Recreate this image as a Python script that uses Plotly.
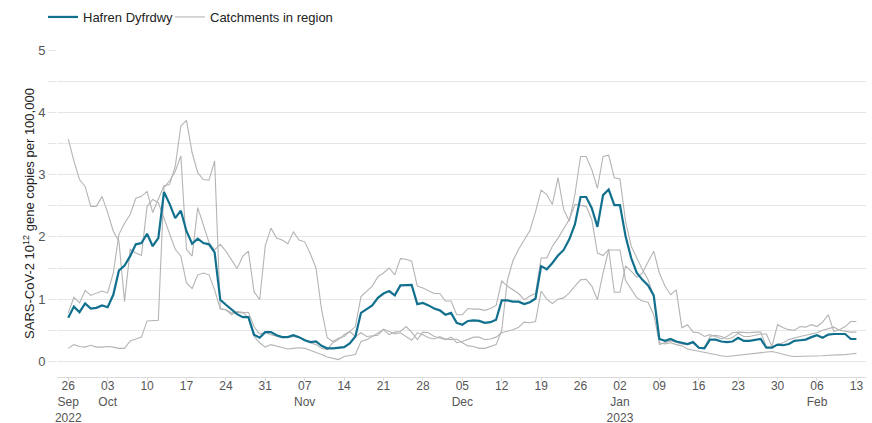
import pandas as pd
import plotly.graph_objects as go

# Daily series, 26 Sep 2022 to 13 Feb 2023
start_date = "2022-09-26"
n_days = 141

hafren_dyfrdwy = [
    0.70, 0.88, 0.79, 0.93, 0.85, 0.86, 0.90, 0.87, 1.07, 1.46, 1.54, 1.69, 1.88, 1.90, 2.05, 1.85,
    1.98, 2.72, 2.53, 2.30, 2.42, 2.09, 1.89, 1.97, 1.90, 1.88, 1.75, 0.99, 0.91, 0.84, 0.76, 0.71,
    0.71, 0.43, 0.38, 0.47, 0.47, 0.42, 0.39, 0.39, 0.42, 0.39, 0.34, 0.31, 0.32, 0.25, 0.21, 0.21,
    0.22, 0.23, 0.29, 0.40, 0.78, 0.84, 0.90, 1.02, 1.09, 1.13, 1.06, 1.22, 1.23, 1.23, 0.92, 0.94,
    0.90, 0.85, 0.82, 0.75, 0.78, 0.62, 0.59, 0.65, 0.66, 0.65, 0.62, 0.63, 0.67, 0.98, 0.98, 0.96,
    0.96, 0.92, 0.95, 1.01, 1.53, 1.48, 1.58, 1.70, 1.79, 1.96, 2.20, 2.64, 2.64, 2.46, 2.16, 2.67,
    2.76, 2.51, 2.51, 2.01, 1.66, 1.42, 1.31, 1.22, 1.06, 0.36, 0.33, 0.36, 0.32, 0.30, 0.28, 0.31,
    0.22, 0.21, 0.35, 0.35, 0.32, 0.31, 0.32, 0.38, 0.33, 0.33, 0.34, 0.36, 0.22, 0.22, 0.27, 0.26,
    0.28, 0.33, 0.34, 0.35, 0.39, 0.42, 0.38, 0.43, 0.44, 0.44, 0.44, 0.36, 0.36,
]

catchment_a = [
    3.57, 3.22, 2.92, 2.81, 2.49, 2.49, 2.65, 2.39, 2.09, 1.93, 0.96,
    1.80, 1.74, 1.70, 2.49, 2.60, 2.55, 2.30, 2.05, 1.80, 1.69, 1.26, 1.17, 1.39, 1.42, 1.39, 1.15,
    0.84, 0.83, 0.75, 0.80, 0.79, 0.70, 0.40, 0.30, 0.23, 0.27, 0.25, 0.22, 0.20, 0.21, 0.22, 0.21,
    0.18, 0.14, 0.11, 0.07, 0.05,
    0.03, 0.08, 0.09, 0.11, 0.32, 0.35, 0.40, 0.46, 0.51, 0.43, 0.47, 0.48, 0.56, 0.47, 0.35, 0.47,
    0.46, 0.40, 0.37, 0.35, 0.39, 0.30, 0.32, 0.36, 0.39, 0.39, 0.35, 0.36, 0.39,
    0.46, 0.48, 0.51, 0.55, 0.63, 0.62, 0.64, 1.13, 1.00, 0.93, 1.00, 1.02, 1.10, 1.21, 1.31, 1.32,
    1.21, 0.99, 1.42, 1.79, 1.79, 1.79, 1.30, 1.15, 1.02, 0.97, 0.95, 0.75,
    0.30, 0.28, 0.30, 0.27, 0.25, 0.20, 0.18, 0.17, 0.15, 0.12, 0.10, 0.09, 0.08, 0.09, 0.10, 0.11,
    0.12, 0.13, 0.15, 0.16, 0.16, 0.14, 0.11, 0.09, 0.08, 0.08, 0.08, 0.08, 0.09, 0.09, 0.10, 0.10,
    0.11, 0.11, 0.12, 0.13,
]

catchment_b = [
    0.78, 1.03, 0.94, 1.14, 1.06, 1.09, 1.13, 1.10, 1.42, 2.04, 2.22, 2.36, 2.62, 2.65, 2.73, 2.39,
    2.60, 2.82, 2.84, 3.13, 3.78, 3.87, 3.35, 3.03, 2.92, 2.91, 3.22,
    0.85, 0.83, 0.78, 0.79, 0.78, 0.79, 0.56, 0.44, 0.47, 0.43, 0.40, 0.38, 0.39, 0.40, 0.38, 0.35,
    0.30, 0.27, 0.21, 0.19, 0.30,
    0.35, 0.43, 0.48, 0.40, 0.46, 0.40, 0.41, 0.42, 0.52, 0.48, 0.44, 0.46, 0.40, 0.34, 0.46, 0.43,
    0.38, 0.36, 0.40, 0.36, 0.35, 0.36, 0.30, 0.25, 0.24, 0.21, 0.21, 0.24, 0.27,
    0.50, 1.30, 1.62, 1.80, 1.95, 2.10, 2.40, 2.75, 2.68, 2.52, 2.95, 2.44, 2.25, 2.68, 3.29, 3.29,
    3.08, 2.78, 3.29, 3.31, 2.95, 2.93, 2.25, 1.85, 1.66, 1.47, 1.31, 1.05,
    0.27, 0.30, 0.33, 0.31, 0.28, 0.27, 0.30, 0.22, 0.23, 0.40, 0.42, 0.40, 0.36, 0.38, 0.45, 0.40,
    0.40, 0.42, 0.44, 0.44, 0.24, 0.27, 0.30, 0.35, 0.38, 0.40, 0.42, 0.44, 0.46, 0.50, 0.52, 0.55,
    0.50, 0.48, 0.47, 0.47,
]

catchment_c = [
    0.21, 0.27, 0.24, 0.23, 0.26, 0.23, 0.23, 0.24, 0.23, 0.21, 0.21, 0.33, 0.36, 0.39, 0.65, 0.65,
    0.66,
    2.79, 2.90, 3.05, 3.30, 1.80, 1.69, 2.47, 2.20, 1.91, 1.79, 1.88, 1.77, 1.64, 1.49, 1.69, 1.77,
    1.12, 0.99, 1.86, 2.14, 1.98, 1.95, 1.89, 2.08, 1.95, 1.92, 1.73, 1.50, 0.83, 0.38, 0.32,
    0.37, 0.40, 0.48, 0.56, 1.04, 1.12, 1.21, 1.36, 1.42, 1.50, 1.39, 1.65, 1.64, 1.61, 1.21, 1.18,
    1.13, 1.09, 1.09, 0.97, 0.97, 0.75, 0.75, 0.85, 0.84, 0.84, 0.82, 0.85, 0.90,
    1.29, 1.21, 1.15, 1.09, 0.99, 1.05, 1.09, 1.66, 1.66, 1.85, 1.98, 2.12, 2.28, 2.52, 2.50, 2.49,
    2.28, 1.74, 1.70, 1.80, 1.11, 1.11, 1.53, 1.45, 1.35, 1.42, 1.60, 1.77,
    1.42, 1.21, 1.07, 1.15, 0.54, 0.59, 0.47, 0.46, 0.40, 0.43, 0.40, 0.36, 0.40, 0.46, 0.47, 0.46,
    0.46, 0.47, 0.47, 0.24, 0.24, 0.59, 0.54, 0.51, 0.50, 0.56, 0.55, 0.59, 0.56, 0.63, 0.75, 0.48,
    0.51, 0.56, 0.64, 0.64,
]

tick_dates = [
    "2022-09-26", "2022-10-03", "2022-10-10", "2022-10-17", "2022-10-24", "2022-10-31",
    "2022-11-07", "2022-11-14", "2022-11-21", "2022-11-28", "2022-12-05", "2022-12-12",
    "2022-12-19", "2022-12-26", "2023-01-02", "2023-01-09", "2023-01-16", "2023-01-23",
    "2023-01-30", "2023-02-06", "2023-02-13",
]
tick_labels = [
    "26<br>Sep<br>2022", "03<br>Oct", "10", "17", "24", "31",
    "07<br>Nov", "14", "21", "28", "05<br>Dec", "12",
    "19", "26", "02<br>Jan<br>2023", "09", "16", "23",
    "30", "06<br>Feb", "13",
]

dates = pd.date_range(start_date, periods=n_days, freq="D")

TEAL = "#12708f"
GREY = "#b4b4b4"

fig = go.Figure()

for i, series in enumerate([catchment_a, catchment_b, catchment_c]):
    fig.add_trace(go.Scatter(
        x=dates, y=series, mode="lines",
        line=dict(color=GREY, width=1.1),
        name="Catchments in region", legendgroup="catchments", legend="legend2",
        showlegend=(i == 0), hoverinfo="skip",
    ))

fig.add_trace(go.Scatter(
    x=dates, y=hafren_dyfrdwy, mode="lines",
    line=dict(color=TEAL, width=2.2),
    name="Hafren Dyfrdwy", legend="legend",
))

legend_style = dict(
    orientation="h", xref="container", yref="container",
    xanchor="left", yanchor="middle", y=1 - 17 / 423,
    font=dict(size=13, color="#222222"), itemwidth=30,
    bgcolor="rgba(0,0,0,0)", borderwidth=0,
)

fig.update_layout(
    width=872, height=423,
    margin=dict(l=57, r=6, t=50, b=46, autoexpand=False),
    plot_bgcolor="white", paper_bgcolor="white",
    font=dict(family="Liberation Sans, Arial, sans-serif", size=13, color="#333333"),
    legend=dict(x=43 / 872, **legend_style),
    legend2=dict(x=170 / 872, **legend_style),
    showlegend=True,
)

fig.update_xaxes(
    range=["2022-09-24", "2023-02-14 17:00"],
    tickmode="array", tickvals=tick_dates, ticktext=tick_labels,
    showgrid=False, zeroline=False, automargin=False,
    showline=True, linecolor="#dcdcdc", linewidth=1,
    ticks="outside", ticklen=3, tickcolor="#dcdcdc",
    ticklabelstandoff=-5,
    tickfont=dict(size=12, color="#555555"),
)

fig.update_yaxes(
    range=[-0.25, 5.0],
    tickmode="array", tickvals=[0, 1, 2, 3, 4, 5],
    showgrid=True, gridcolor="#e6e6e6", gridwidth=1,
    zeroline=False, showline=False,
    ticks="outside", ticklen=8, tickcolor="#e6e6e6",
    minor=dict(dtick=0.5, tick0=0, showgrid=True, gridcolor="#e6e6e6", gridwidth=1,
               ticks="outside", ticklen=8, tickcolor="#e6e6e6"),
    tickfont=dict(size=13, color="#555555"),
    title=dict(text="SARS-CoV-2 10<sup>12</sup> gene copies per 100,000",
               font=dict(size=13, color="#222222"), standoff=0),
)

fig.write_html("out.html")
